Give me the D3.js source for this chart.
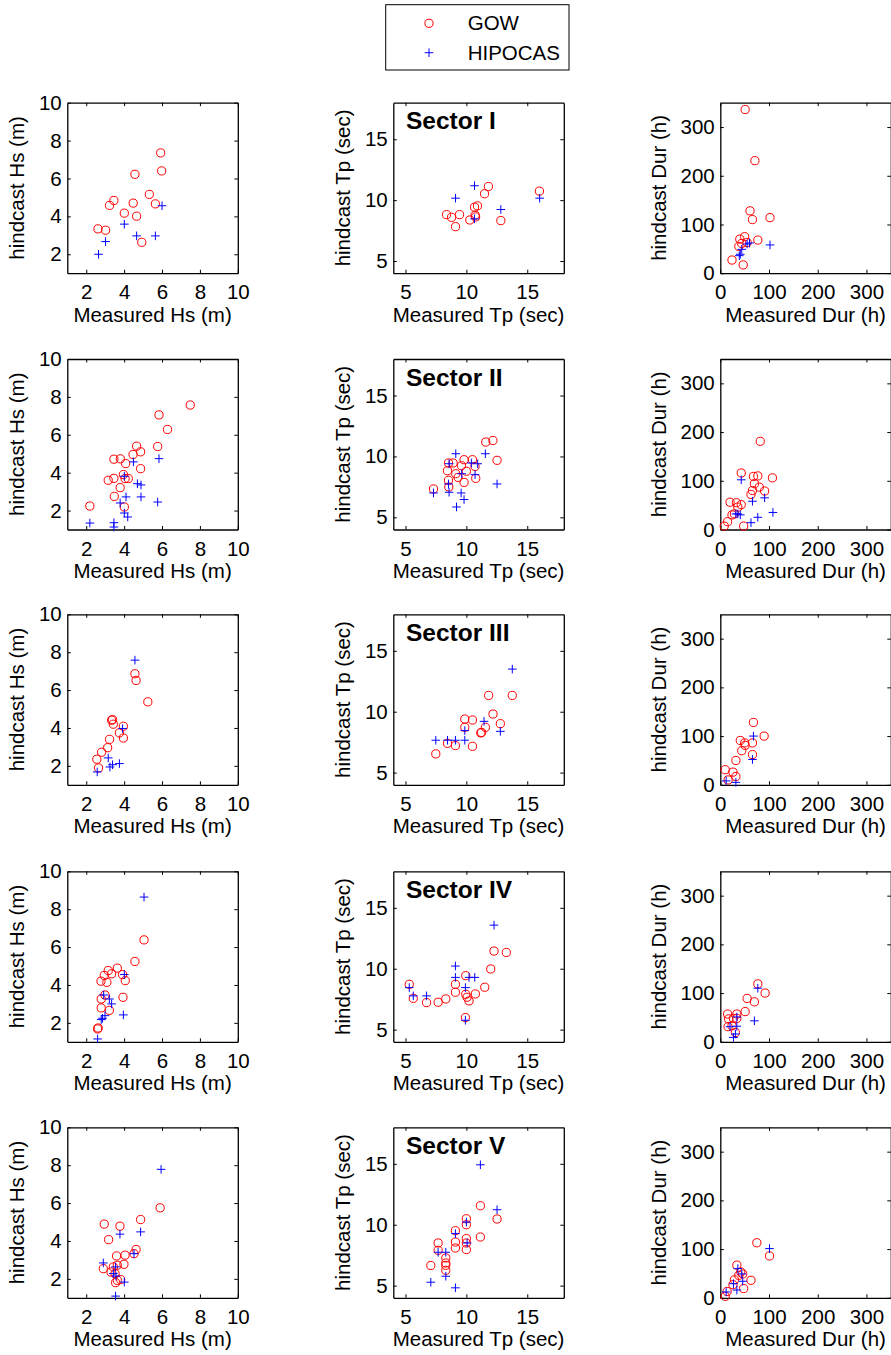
<!DOCTYPE html>
<html>
<head>
<meta charset="utf-8">
<script src="https://cdn.jsdelivr.net/npm/d3@7"></script>
<style>
  html, body { margin: 0; padding: 0; background: #fff; }
  svg { display: block; font-family: "Liberation Sans", Arial, sans-serif; }
</style>
</head>
<body>
<svg id="chart" width="891" height="1355"></svg>
<script>
// ---------------- DATA ----------------
const sectors = ["Sector I", "Sector II", "Sector III", "Sector IV", "Sector V"];
const seriesNames = ["GOW", "HIPOCAS"];

const xLabels = ["Measured Hs (m)", "Measured Tp (sec)", "Measured Dur (h)"];
const yLabels = ["hindcast Hs (m)", "hindcast Tp (sec)", "hindcast Dur (h)"];

const hsTicks = [2, 4, 6, 8, 10];
const tpTicks = [5, 10, 15];
const durTicks = [0, 100, 200, 300];

const hsDomain = [1, 10];
const tpDomain = [4, 18];
const durDomain = [0, 350];

// [measured, hindcast] pairs, one list per sector (I..V)
const gowHs = [
  [[2.62,3.34],[3.02,3.27],[3.23,4.58],[3.46,4.84],[4.01,4.17],[4.57,6.22],[4.48,4.70],[4.66,4.01],[4.93,2.63],[5.33,5.16],[5.65,4.66],[5.93,7.35],[5.98,6.40]],
  [[2.19,2.24],[3.48,2.75],[3.16,3.60],[3.46,3.70],[3.46,4.71],[3.80,4.73],[3.79,3.21],[3.96,3.90],[4.05,3.69],[4.22,3.69],[4.08,4.48],[4.01,2.19],[4.47,4.96],[4.66,5.40],[4.87,5.10],[4.87,4.21],[5.77,5.38],[5.84,7.05],[6.29,6.28],[7.49,7.57]],
  [[2.56,2.35],[2.65,1.89],[2.81,2.72],[3.13,2.96],[3.23,3.40],[3.34,4.41],[3.39,4.44],[3.43,4.20],[3.75,3.74],[3.96,4.09],[3.96,3.47],[4.57,6.86],[4.63,6.51],[5.25,5.38]],
  [[2.60,1.68],[2.63,1.73],[2.79,2.79],[2.79,3.26],[2.78,4.20],[2.99,3.47],[2.95,4.50],[3.09,4.14],[3.16,4.76],[3.22,2.66],[3.34,4.59],[3.64,4.89],[3.92,4.55],[4.06,4.23],[3.94,3.35],[4.57,5.24],[5.05,6.38]],
  [[2.95,4.89],[3.18,4.07],[2.90,2.54],[3.31,2.36],[3.43,2.63],[3.55,1.80],[3.64,1.92],[3.64,2.72],[3.60,3.21],[3.78,4.78],[3.82,1.96],[3.99,2.77],[4.05,3.25],[4.52,3.33],[4.63,3.55],[4.87,5.13],[5.90,5.75],[3.52,2.28]]
];
const hipHs = [
  [[2.65,2.0],[3.02,2.67],[4.01,3.59],[4.66,2.97],[5.65,2.97],[6.0,4.56]],
  [[2.19,1.34],[3.46,1.36],[3.46,1.13],[3.79,2.40],[4.01,3.81],[4.10,2.72],[4.19,1.66],[4.49,4.57],[4.70,3.42],[4.89,3.35],[4.89,2.72],[5.77,2.45],[5.84,4.74],[4.01,1.87]],
  [[2.58,1.68],[3.16,2.42],[3.25,1.94],[3.39,2.06],[3.75,2.12],[3.92,3.97],[4.57,7.58]],
  [[2.60,1.15],[2.79,2.17],[2.86,2.24],[2.99,2.38],[2.92,3.47],[3.22,3.26],[3.34,3.0],[3.96,2.42],[4.01,4.55],[5.05,8.64]],
  [[2.90,2.84],[3.43,2.28],[3.55,2.63],[3.57,2.15],[3.55,1.09],[3.78,4.36],[4.01,1.83],[4.52,3.33],[4.87,4.48],[5.95,7.78]]
];
const gowTp = [
  [[8.37,8.81],[8.78,8.59],[9.11,7.82],[9.44,8.81],[10.28,8.37],[10.67,9.42],[10.91,9.53],[10.72,8.76],[10.76,8.62],[11.49,10.52],[11.81,11.12],[12.83,8.32],[16.0,10.74]],
  [[7.30,7.33],[8.53,9.46],[8.45,8.83],[8.53,8.04],[8.56,7.49],[8.91,9.46],[9.13,8.58],[9.32,8.28],[9.60,9.24],[9.81,9.73],[9.81,7.87],[10.0,8.78],[10.5,9.73],[10.71,9.18],[10.77,8.20],[11.59,11.18],[12.18,11.31],[12.52,9.68]],
  [[7.49,6.54],[8.45,7.41],[9.10,7.22],[9.87,9.40],[9.87,8.72],[10.50,9.32],[10.50,7.16],[11.18,8.26],[11.25,8.30],[11.83,11.34],[12.19,9.81],[11.56,8.72],[12.79,9.02],[13.77,11.34]],
  [[5.31,8.72],[5.64,7.57],[6.73,7.22],[7.68,7.25],[8.31,7.52],[9.10,8.72],[9.10,8.07],[9.95,9.43],[9.95,7.90],[10.06,7.66],[10.22,7.36],[9.92,5.99],[10.74,7.93],[11.51,8.48],[12.0,9.98],[12.27,11.45],[13.28,11.34]],
  [[7.08,6.65],[7.68,8.50],[7.68,7.90],[8.31,7.27],[8.31,6.86],[8.31,6.67],[8.31,6.26],[9.10,9.51],[9.10,8.58],[9.10,8.09],[10.0,10.49],[10.0,10.0],[10.0,8.86],[10.0,7.96],[10.0,8.50],[11.15,8.99],[11.15,11.56],[12.52,10.47]]
];
const hipTp = [
  [[9.11,10.16],[10.67,11.18],[10.67,8.46],[12.83,9.23],[16.02,10.16]],
  [[7.30,7.0],[8.53,7.74],[8.58,7.06],[8.58,9.40],[9.13,10.22],[9.19,5.85],[9.57,7.0],[9.81,6.46],[9.62,8.58],[10.41,9.46],[10.71,8.50],[10.93,9.40],[11.56,10.22],[12.52,7.74]],
  [[7.49,7.66],[8.45,7.66],[9.10,7.66],[9.87,7.66],[9.87,8.45],[11.45,9.21],[12.79,8.39],[13.77,13.50]],
  [[5.31,8.45],[5.64,7.77],[6.73,7.77],[9.10,10.22],[9.10,9.29],[9.92,8.45],[9.92,5.77],[10.22,9.29],[10.69,9.29],[12.27,13.58]],
  [[7.08,5.28],[7.68,7.74],[8.31,7.74],[8.31,5.77],[9.10,4.82],[9.10,9.27],[10.0,10.22],[10.06,8.50],[11.15,14.92],[12.52,11.23]]
];
const gowDur = [
  [[51,336],[71,231],[61,128],[66,110],[102,114],[77,68],[50,75],[40,70],[38,55],[24,27],[47,17],[55,63],[44,61]],
  [[8,7],[15,16],[24,30],[20,56],[33,55],[29,32],[36,46],[43,51],[48,7],[43,116],[63,72],[66,80],[68,109],[70,94],[77,110],[80,87],[82,181],[91,79],[107,106]],
  [[10,31],[16,10],[26,26],[32,17],[32,50],[44,70],[41,91],[50,86],[51,81],[66,86],[66,62],[68,128],[90,100]],
  [[15,57],[17,47],[16,31],[24,33],[27,48],[34,57],[34,48],[31,19],[51,62],[55,89],[70,82],[77,119],[92,100]],
  [[10,3],[14,13],[26,27],[29,37],[34,67],[38,46],[42,53],[46,49],[48,19],[63,36],[75,113],[101,86]]
];
const hipDur = [
  [[41,39],[44,49],[55,60],[60,62],[102,58],[39,36]],
  [[43,102],[32,32],[41,30],[36,32],[63,14],[66,58],[77,25],[91,65],[108,35]],
  [[12,8],[32,5],[68,100],[66,52]],
  [[20,31],[27,9],[31,16],[34,32],[34,51],[70,43],[77,110]],
  [[12,12],[27,29],[34,16],[36,60],[44,49],[46,34],[101,101]]
];

// ---------------- LAYOUT ----------------
const colLeft = [67.3, 393.3, 720.3];
const rowTop = [102.7, 359, 614.3, 871.3, 1127.3];
const S = 170.5;
const FONT = 20.5;
const TICK = 3.5;
const RED = "#ff0000", BLUE = "#0000ff";
const MR = 4.1;   // circle radius
const PH = 4.3;   // plus half-size

const svg = d3.select("#chart");

const vars = [
  { dom: hsDomain, ticks: hsTicks, gow: gowHs, hip: hipHs, ylabOff: 43.5 },
  { dom: tpDomain, ticks: tpTicks, gow: gowTp, hip: hipTp, ylabOff: 43 },
  { dom: durDomain, ticks: durTicks, gow: gowDur, hip: hipDur, ylabOff: 54 }
];

function plusPath(x, y) {
  return `M${x - PH},${y}H${x + PH}M${x},${y - PH}V${y + PH}`;
}

sectors.forEach((sec, r) => {
  vars.forEach((v, c) => {
    const g = svg.append("g").attr("transform", `translate(${colLeft[c]},${rowTop[r]})`);
    const x = d3.scaleLinear().domain(v.dom).range([0, S]);
    const y = d3.scaleLinear().domain(v.dom).range([S, 0]);

    const styleAxis = sel => {
      sel.selectAll("path.domain").attr("stroke", "#000").attr("stroke-width", 1.3);
      sel.selectAll(".tick line").attr("stroke", "#000").attr("stroke-width", 1);
      sel.selectAll("text").attr("font-size", FONT).attr("font-family", "Liberation Sans, Arial, sans-serif").attr("fill", "#000");
    };

    g.append("g").attr("transform", `translate(0,${S})`)
      .call(d3.axisBottom(x).tickValues(v.ticks).tickSizeInner(-TICK).tickSizeOuter(0).tickPadding(11.5).tickFormat(d3.format("d")))
      .call(styleAxis);
    g.append("g")
      .call(d3.axisLeft(y).tickValues(v.ticks).tickSizeInner(-TICK).tickSizeOuter(0).tickPadding(5.6).tickFormat(d3.format("d")))
      .call(styleAxis);
    g.append("g")
      .call(d3.axisTop(x).tickValues(v.ticks).tickSizeInner(-TICK).tickSizeOuter(0).tickFormat(""))
      .call(styleAxis);
    g.append("g").attr("transform", `translate(${S},0)`)
      .call(d3.axisRight(y).tickValues(v.ticks).tickSizeInner(-TICK).tickSizeOuter(0).tickFormat(""))
      .call(styleAxis);

    // axis labels
    g.append("text")
      .attr("x", S / 2).attr("y", S + 48.7)
      .attr("text-anchor", "middle").attr("font-size", FONT).attr("fill", "#000")
      .text(xLabels[c]);
    g.append("text")
      .attr("transform", `translate(${-v.ylabOff},${S / 2}) rotate(-90)`)
      .attr("text-anchor", "middle").attr("font-size", FONT).attr("fill", "#000")
      .text(yLabels[c]);

    if (c === 1) {
      g.append("text")
        .attr("x", 12.7).attr("y", 26.6)
        .attr("font-size", 24.5).attr("font-weight", "bold").attr("fill", "#000")
        .text(sec);
    }

    // GOW circles
    g.append("g").selectAll("circle").data(v.gow[r]).join("circle")
      .attr("cx", d => x(d[0])).attr("cy", d => y(d[1])).attr("r", MR)
      .attr("fill", "none").attr("stroke", RED).attr("stroke-width", 1);
    // HIPOCAS plus
    g.append("g").selectAll("path").data(v.hip[r]).join("path")
      .attr("d", d => plusPath(x(d[0]), y(d[1])))
      .attr("fill", "none").attr("stroke", BLUE).attr("stroke-width", 1);
  });
});

// ---------------- LEGEND ----------------
const lg = svg.append("g");
lg.append("rect").attr("x", 385.7).attr("y", 4.7).attr("width", 183.3).attr("height", 65.3)
  .attr("fill", "#fff").attr("stroke", "#000").attr("stroke-width", 1);
const legendRows = [
  { name: seriesNames[0], cy: 23.3, base: 30.3 },
  { name: seriesNames[1], cy: 52.7, base: 59.8 }
];
lg.append("circle").attr("cx", 429).attr("cy", legendRows[0].cy).attr("r", MR)
  .attr("fill", "none").attr("stroke", RED).attr("stroke-width", 1);
lg.append("path").attr("d", plusPath(429, legendRows[1].cy))
  .attr("fill", "none").attr("stroke", BLUE).attr("stroke-width", 1);
lg.selectAll("text").data(legendRows).join("text")
  .attr("x", 467.7).attr("y", d => d.base)
  .attr("font-size", FONT).attr("fill", "#000")
  .text(d => d.name);
</script>
</body>
</html>
